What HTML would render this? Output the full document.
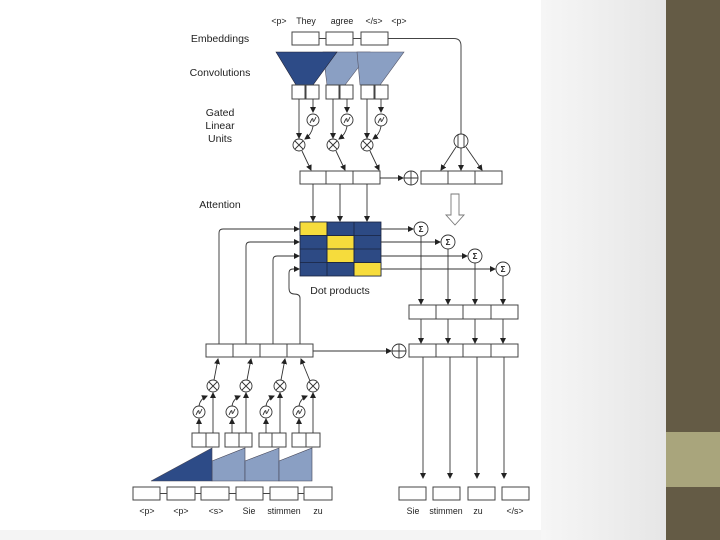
<!DOCTYPE html>
<html><head><meta charset="utf-8"><style>
html,body{margin:0;padding:0;width:720px;height:540px;overflow:hidden;background:#fff}
svg{display:block}
text{font-family:"Liberation Sans",sans-serif;fill:#222}
</style></head><body>
<svg width="720" height="540" viewBox="0 0 720 540" xmlns="http://www.w3.org/2000/svg">
<defs>
<linearGradient id="bg" x1="0" y1="0" x2="1" y2="0"><stop offset="0" stop-color="#f6f6f6"/><stop offset="1" stop-color="#e6e6e6"/></linearGradient>
<marker id="a" markerWidth="6" markerHeight="6" refX="5" refY="3" orient="auto" markerUnits="userSpaceOnUse"><path d="M0,0 L6,3 L0,6 z" fill="#222"/></marker>
</defs>
<rect x="541" y="0" width="125" height="540" fill="url(#bg)"/>
<rect x="0" y="530" width="541" height="10" fill="#f4f4f4"/>
<rect x="0" y="0" width="541" height="530" fill="#fff"/>
<rect x="666" y="0" width="54" height="540" fill="#645b45"/>
<rect x="666" y="432" width="54" height="55" fill="#a9a57c"/>

<g font-size="10.5" text-anchor="middle">
<text x="220" y="42">Embeddings</text>
<text x="220" y="76">Convolutions</text>
<text x="220" y="116">Gated</text><text x="220" y="129">Linear</text><text x="220" y="142">Units</text>
<text x="220" y="208">Attention</text>
<text x="340" y="294">Dot products</text>
</g>
<g font-size="8.8" text-anchor="middle">
<text x="279" y="24">&lt;p&gt;</text><text x="306" y="24">They</text><text x="342" y="24">agree</text><text x="374" y="24">&lt;/s&gt;</text><text x="399" y="24">&lt;p&gt;</text>
<text x="147" y="514">&lt;p&gt;</text><text x="181" y="514">&lt;p&gt;</text><text x="216" y="514">&lt;s&gt;</text><text x="249" y="514">Sie</text><text x="284" y="514">stimmen</text><text x="318" y="514">zu</text>
<text x="413" y="514">Sie</text><text x="446" y="514">stimmen</text><text x="478" y="514">zu</text><text x="515" y="514">&lt;/s&gt;</text>
</g>

<g fill="none" stroke="#444" stroke-width="1">
<rect x="292" y="32" width="27" height="13"/><rect x="326" y="32" width="27" height="13"/><rect x="361" y="32" width="27" height="13"/>
<path d="M319,38.5H326M353,38.5H361"/>
<path d="M388,38.5H454Q461,38.5 461,46V134"/>
</g>
<polygon points="323,52 370,52 345,85 327,85" fill="#8a9fc3" stroke="#556" stroke-width="0.6"/>
<polygon points="357,52 404,52 380,85 360,85" fill="#8a9fc3" stroke="#556" stroke-width="0.6"/>
<polygon points="276,52 337,52 313,85 296,85" fill="#2d4b87" stroke="#223" stroke-width="0.6"/>
<g fill="#fff" stroke="#444">
<rect x="292" y="85" width="13" height="14"/><rect x="306" y="85" width="13" height="14"/>
<rect x="326" y="85" width="13" height="14"/><rect x="340" y="85" width="13" height="14"/>
<rect x="361" y="85" width="13" height="14"/><rect x="375" y="85" width="13" height="14"/>
</g>
<g fill="none" stroke="#333" stroke-width="0.9">
<g id="glu">
<path d="M299,99V138" marker-end="url(#a)"/>
<path d="M313,99V112" marker-end="url(#a)"/>
<circle cx="313" cy="120" r="6"/><path d="M310,123 Q313,116 313,120 Q313,124 316,117"/>
<path d="M313,126 Q312,134 305,139" marker-end="url(#a)"/>
<circle cx="299" cy="145" r="6"/><path d="M295,141L303,149M303,141L295,149"/>
<path d="M302,151 L311,170" marker-end="url(#a)"/>
</g>
<use href="#glu" x="34"/><use href="#glu" x="68"/>
</g>
<g fill="none" stroke="#444">
<rect x="300" y="171" width="26" height="13"/><rect x="326" y="171" width="27" height="13"/><rect x="353" y="171" width="27" height="13"/>
<rect x="421" y="171" width="27" height="13"/><rect x="448" y="171" width="27" height="13"/><rect x="475" y="171" width="27" height="13"/>
</g>
<g fill="none" stroke="#333" stroke-width="0.9">
<path d="M380,178H403" marker-end="url(#a)"/>
<circle cx="411" cy="178" r="7"/><path d="M404,178H418M411,171V185"/>
<circle cx="461" cy="141" r="7"/><path d="M458,135V148M464,135V148"/>
<path d="M456,147L441,170" marker-end="url(#a)"/><path d="M461,148V170" marker-end="url(#a)"/><path d="M466,147L482,170" marker-end="url(#a)"/>
<path d="M451,194H459V215H464L455,225L446,215H451Z" fill="#fff" stroke="#777"/>
<path d="M313,184V221" marker-end="url(#a)"/><path d="M340,184V221" marker-end="url(#a)"/><path d="M367,184V221" marker-end="url(#a)"/>
</g>
<g stroke="#1a2440" stroke-width="0.8">
<rect x="300" y="222" width="81" height="54" fill="#2d4a84"/>
<rect x="300" y="222" width="27" height="13.5" fill="#f6dc3c"/>
<rect x="327" y="235.5" width="27" height="13.5" fill="#f6dc3c"/>
<rect x="327" y="249" width="27" height="13.5" fill="#f6dc3c"/>
<rect x="354" y="262.5" width="27" height="13.5" fill="#f6dc3c"/>
<path d="M327,222V276M354,222V276M300,235.5H381M300,249H381M300,262.5H381" fill="none"/>
</g>
<g fill="none" stroke="#333" stroke-width="0.9">
<path d="M219,344V233Q219,229 223,229H299" marker-end="url(#a)"/>
<path d="M246,344V246Q246,242 250,242H299" marker-end="url(#a)"/>
<path d="M273,344V260Q273,256 277,256H299" marker-end="url(#a)"/>
<path d="M300,344V298Q300,294 294,294Q289,294 289,288V273Q289,269 293,269H299" marker-end="url(#a)"/>
<path d="M381,229H413" marker-end="url(#a)"/><path d="M381,242H440" marker-end="url(#a)"/><path d="M381,256H467" marker-end="url(#a)"/><path d="M381,269H495" marker-end="url(#a)"/>
<circle cx="421" cy="229" r="7"/><circle cx="448" cy="242" r="7"/><circle cx="475" cy="256" r="7"/><circle cx="503" cy="269" r="7"/>
<path d="M421,236V304" marker-end="url(#a)"/><path d="M448,249V304" marker-end="url(#a)"/><path d="M475,263V304" marker-end="url(#a)"/><path d="M503,276V304" marker-end="url(#a)"/>
<path d="M421,319V343" marker-end="url(#a)"/><path d="M448,319V343" marker-end="url(#a)"/><path d="M475,319V343" marker-end="url(#a)"/><path d="M503,319V343" marker-end="url(#a)"/>
<path d="M423,357V478" marker-end="url(#a)"/><path d="M450,357V478" marker-end="url(#a)"/><path d="M477,357V478" marker-end="url(#a)"/><path d="M504,357V478" marker-end="url(#a)"/>
<path d="M313,351H391" marker-end="url(#a)"/>
<circle cx="399" cy="351" r="7"/><path d="M392,351H406M399,344V358"/>
</g>
<g font-size="8" font-weight="bold" text-anchor="middle"><text x="421" y="232">Σ</text><text x="448" y="245">Σ</text><text x="475" y="259">Σ</text><text x="503" y="272">Σ</text></g>
<g fill="none" stroke="#444">
<rect x="409" y="305" width="27" height="14"/><rect x="436" y="305" width="27" height="14"/><rect x="463" y="305" width="28" height="14"/><rect x="491" y="305" width="27" height="14"/>
<rect x="409" y="344" width="27" height="13"/><rect x="436" y="344" width="27" height="13"/><rect x="463" y="344" width="28" height="13"/><rect x="491" y="344" width="27" height="13"/>
<rect x="206" y="344" width="27" height="13"/><rect x="233" y="344" width="27" height="13"/><rect x="260" y="344" width="27" height="13"/><rect x="287" y="344" width="26" height="13"/>
<rect x="399" y="487" width="27" height="13"/><rect x="433" y="487" width="27" height="13"/><rect x="468" y="487" width="27" height="13"/><rect x="502" y="487" width="27" height="13"/>
<rect x="133" y="487" width="27" height="13"/><rect x="167" y="487" width="28" height="13"/><rect x="201" y="487" width="28" height="13"/><rect x="236" y="487" width="27" height="13"/><rect x="270" y="487" width="28" height="13"/><rect x="304" y="487" width="28" height="13"/>
<path d="M160,493.5H167M195,493.5H201M229,493.5H236M263,493.5H270M298,493.5H304"/>
</g>
<g stroke="#445" stroke-width="0.6">
<polygon points="212,461 245,448 245,481 212,481" fill="#8a9fc3"/>
<polygon points="245,461 279,448 279,481 245,481" fill="#8a9fc3"/>
<polygon points="279,461 312,448 312,481 279,481" fill="#8a9fc3"/>
<polygon points="151,481 212,448 212,481" fill="#2d4b87"/>
</g>
<g fill="#fff" stroke="#444">
<rect x="192" y="433" width="14" height="14"/><rect x="206" y="433" width="13" height="14"/>
<rect x="225" y="433" width="14" height="14"/><rect x="239" y="433" width="13" height="14"/>
<rect x="259" y="433" width="13" height="14"/><rect x="272" y="433" width="14" height="14"/>
<rect x="292" y="433" width="14" height="14"/><rect x="306" y="433" width="14" height="14"/>
</g>
<g fill="none" stroke="#333" stroke-width="0.9">
<g id="bg2">
<path d="M199,433V419" marker-end="url(#a)"/>
<circle cx="199" cy="412" r="6"/><path d="M196,415 Q199,408 199,412 Q199,416 202,409"/>
<path d="M199,406 Q200,399 207,396" marker-end="url(#a)"/>
<path d="M213,433V393" marker-end="url(#a)"/>
<circle cx="213" cy="386" r="6"/><path d="M209,382L217,390M217,382L209,390"/>
<path d="M214,380L218,359" marker-end="url(#a)"/>
</g>
<use href="#bg2" x="33"/><use href="#bg2" x="67"/>
<g transform="translate(100,0)">
<path d="M199,433V419" marker-end="url(#a)"/>
<circle cx="199" cy="412" r="6"/><path d="M196,415 Q199,408 199,412 Q199,416 202,409"/>
<path d="M199,406 Q200,399 207,396" marker-end="url(#a)"/>
<path d="M213,433V393" marker-end="url(#a)"/>
<circle cx="213" cy="386" r="6"/><path d="M209,382L217,390M217,382L209,390"/>
<path d="M210,381L201,359" marker-end="url(#a)"/>
</g>
</g>
</svg>
</body></html>
